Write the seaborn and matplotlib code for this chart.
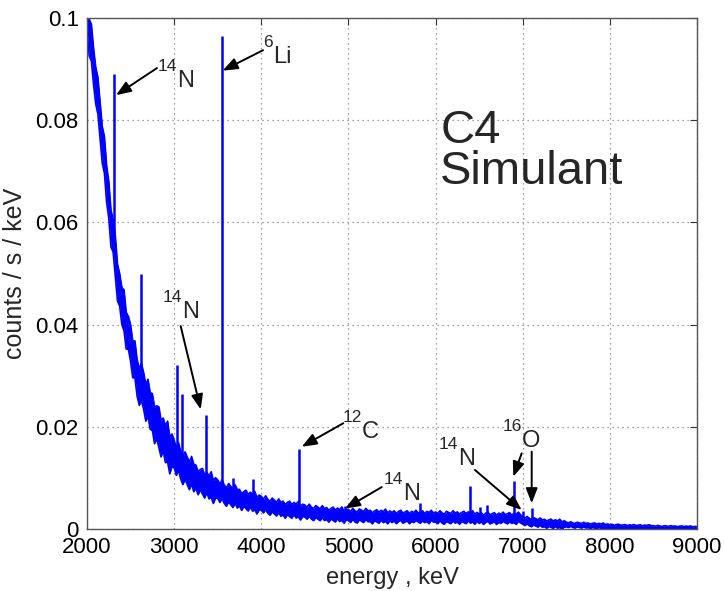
import numpy as np
import pandas as pd
import matplotlib
matplotlib.use("Agg")
import matplotlib.pyplot as plt
import seaborn as sns

# 连续谱噪声带的上沿/下沿 (counts/s/keV x 1e-3)，2000-9000 keV，每 25 keV 一个点
energy = np.arange(2000, 9001, 25)
hi_2000 = [105, 99.8, 98.8, 94.2, 90.4, 88.4, 83.6, 78.8, 76.8, 71.2,
           68, 62.4, 60.6, 57.4, 51.8, 50, 47.2, 46.8, 42.4, 41.6]
lo_2000 = [97.8, 92.6, 91.6, 87, 83.2, 81.2, 76.4, 71.6, 69.6, 64,
           60.8, 55.2, 54.2, 49.4, 44.6, 43.6, 40, 38.8, 35.2, 35.2]
hi_2500 = [40, 36.8, 36.8, 33.2, 31.4, 32.4, 30.6, 28.3, 29.3, 26.7,
           26.5, 23.9, 24.1, 23.9, 21.3, 21.7, 20.2, 21.1, 18, 18.6]
lo_2500 = [32.8, 29.6, 29.6, 26, 24.2, 25.2, 23.4, 21.1, 22.1, 19.5,
           19.3, 16.7, 17.7, 15.9, 14.1, 15.3, 13, 13.1, 10.8, 12.2]
hi_3000 = [17.4, 15.9, 16.9, 15.2, 14.1, 15.1, 14.1, 13.1, 14.2, 12.7,
           12.5, 11.2, 11.65, 11.85, 10.55, 11.1, 10.4, 11.2, 9.5, 10.05]
lo_3000 = [12, 10.5, 11.5, 9.8, 8.7, 9.7, 8.7, 7.7, 8.8, 7.3,
           8, 6.7, 7.65, 6.85, 6.05, 7.1, 5.9, 6.2, 5, 6.05]
hi_3500 = [9.6, 8.8, 9.6, 8.6, 8.05, 8.9, 8.35, 7.8, 8.65, 7.7,
           7.75, 6.88, 7.32, 7.58, 6.76, 7.2, 6.74, 7.36, 6.18, 6.62]
lo_3500 = [6, 5.2, 6, 5, 4.45, 5.3, 4.75, 4.2, 5.05, 4.1,
           4.51, 3.64, 4.44, 3.98, 3.52, 4.32, 3.5, 3.76, 2.94, 3.74]
hi_4000 = [6.4, 5.85, 6.5, 5.8, 5.4, 6.05, 5.65, 5.25, 5.9, 5.2,
           5.45, 4.8, 5.2, 5.45, 4.8, 5.2, 4.85, 5.4, 4.45, 4.85]
lo_4000 = [3.7, 3.15, 3.8, 3.1, 2.7, 3.35, 2.95, 2.55, 3.2, 2.5,
           2.75, 2.1, 2.8, 2.45, 2.1, 2.8, 2.15, 2.4, 1.75, 2.45]
hi_4500 = [4.7, 4.26, 4.86, 4.29, 3.98, 4.58, 4.27, 3.96, 4.56, 3.99,
           4.2, 3.68, 4.02, 4.28, 3.71, 4.1, 3.79, 4.31, 3.48, 3.87]
lo_4500 = [2.36, 1.92, 2.52, 1.95, 1.64, 2.24, 1.93, 1.62, 2.22, 1.65,
           1.86, 1.34, 1.94, 1.68, 1.37, 2.02, 1.45, 1.71, 1.14, 1.79]
hi_5000 = [3.8, 3.44, 4.04, 3.56, 3.32, 3.92, 3.68, 3.44, 4.04, 3.56,
           3.65, 3.17, 3.53, 3.77, 3.29, 3.65, 3.41, 3.89, 3.17, 3.53]
lo_5000 = [1.64, 1.28, 1.88, 1.4, 1.16, 1.76, 1.52, 1.28, 1.88, 1.4,
           1.49, 1.01, 1.61, 1.37, 1.13, 1.73, 1.25, 1.49, 1.01, 1.61]
hi_5500 = [3.23, 3.56, 3.01, 3.45, 3.67, 3.12, 3.34, 3.56, 3.01, 3.45,
           3.23, 3.67, 3.12, 3.34, 3.56, 3.01, 3.45, 3.23, 3.67, 3.12]
lo_5500 = [1.25, 1.58, 1.03, 1.47, 1.69, 1.14, 1.36, 1.58, 1.03, 1.47,
           1.25, 1.69, 1.36, 1.14, 1.58, 1.25, 1.47, 1.03, 1.69, 1.36]
hi_6000 = [3.35, 3.02, 3.57, 3.13, 2.91, 3.46, 3.24, 3.02, 3.57, 3.13,
           3.35, 2.91, 3.24, 3.46, 3.02, 3.35, 3.13, 3.57, 2.91, 3.24]
lo_6000 = [1.37, 1.04, 1.59, 1.15, 0.93, 1.48, 1.26, 1.04, 1.59, 1.15,
           1.37, 0.93, 1.48, 1.26, 1.04, 1.59, 1.15, 1.37, 0.93, 1.48]
hi_6500 = [2.9, 3.2, 2.7, 3.1, 3.3, 2.8, 3.0, 3.2, 2.7, 3.1,
           2.9, 3.3, 2.8, 3.0, 3.2, 2.7, 3.1, 2.9, 3.3, 2.8]
lo_6500 = [1.1, 1.4, 0.9, 1.3, 1.5, 1.0, 1.2, 1.4, 0.9, 1.3,
           1.1, 1.5, 1.2, 1.0, 1.4, 1.1, 1.3, 0.9, 1.5, 1.2]
hi_7000 = [2.4, 2.11, 2.46, 2.09, 1.88, 2.23, 2.02, 1.81, 2.16, 1.79,
           1.9, 1.58, 1.77, 1.93, 1.56, 1.8, 1.59, 1.91, 1.38, 1.62]
lo_7000 = [0.96, 0.67, 1.02, 0.65, 0.44, 0.79, 0.58, 0.37, 0.72, 0.35,
           0.46, 0.14, 0.49, 0.33, 0.12, 0.52, 0.15, 0.31, 0.0, 0.34]
hi_7500 = [1.35, 1.18, 1.42, 1.2, 1.08, 1.32, 1.2, 1.08, 1.32, 1.1,
           1.18, 0.97, 1.1, 1.18, 0.97, 1.1, 0.98, 1.17, 0.86, 1.0]
lo_7500 = [0.45, 0.28, 0.52, 0.3, 0.18, 0.42, 0.3, 0.18, 0.42, 0.2,
           0.28, 0.07, 0.3, 0.18, 0.07, 0.3, 0.08, 0.17, 0.0, 0.2]
hi_8000 = [0.82, 0.93, 0.72, 0.87, 0.94, 0.73, 0.8, 0.87, 0.66, 0.81,
           0.72, 0.88, 0.67, 0.75, 0.82, 0.62, 0.77, 0.69, 0.84, 0.64]
lo_8000 = [0.1, 0.21, 0.0, 0.15, 0.22, 0.01, 0.08, 0.15, 0.0, 0.09,
           0.0, 0.16, 0.03, 0.0, 0.1, 0.0, 0.05, 0.0, 0.12, 0.0]
hi_8500 = [0.65, 0.55, 0.7, 0.57, 0.51, 0.65, 0.58, 0.52, 0.66, 0.54,
           0.59, 0.46, 0.55, 0.6, 0.48, 0.56, 0.49, 0.61, 0.42, 0.5, 0.46]
lo_8500 = [0.11, 0.01, 0.16, 0.03, 0.0, 0.11, 0.04, 0.0, 0.12, 0.0,
           0.05, 0.0, 0.07, 0.0, 0.0, 0.08, 0.0, 0.01, 0.0, 0.02, 0.0]

# 特征峰: 能量 (keV), 峰底, 峰顶 (x 1e-3)
peak_energy = [2313, 2390, 2614, 3030, 3085, 3365, 3550, 3670, 3910, 4430,
               4960, 5820, 6390, 6510, 6590, 6900, 7000, 7110]
peak_low = [55, 44, 28, 13, 12, 8, 7, 5, 4, 3,
            2, 1.5, 1.5, 1.5, 1.5, 1.2, 1.0, 0.8]
peak_high = [89, 47.5, 50, 32, 26.5, 22.3, 96.5, 10, 9.8, 15.7,
             4.5, 5, 8.5, 4.4, 4.7, 9.3, 3.6, 4.1]

xticks = [2000, 3000, 4000, 5000, 6000, 7000, 8000, 9000]
yticks = [0, 0.02, 0.04, 0.06, 0.08, 0.1]
yticklabels = ['0', '0.02', '0.04', '0.06', '0.08', '0.1']

# 标注: 质量数, 元素, 文字位置 (keV, counts)
labels = [('14', 'N', 3033, 0.0865),
          ('6', 'Li', 4134, 0.0912),
          ('14', 'N', 3090, 0.0413),
          ('12', 'C', 5152, 0.0178),
          ('14', 'N', 5626, 0.0057),
          ('14', 'N', 6257, 0.0125),
          ('16', 'O', 6988, 0.0161)]
# 箭头: 起点 -> 终点
arrows = [((2803, 0.0902), (2333, 0.0849)),
          ((4020, 0.0937), (3557, 0.0897)),
          ((3075, 0.0397), (3305, 0.0234)),
          ((4941, 0.0207), (4464, 0.0161)),
          ((5382, 0.0082), (4961, 0.0040)),
          ((6452, 0.01155), (6988, 0.00372)),
          ((6988, 0.01481), (6892, 0.01023)),
          ((7103, 0.01513), (7103, 0.00503))]

sns.set_style("white")
plt.rcParams['font.family'] = ['Liberation Sans', 'DejaVu Sans']

hi = np.concatenate([hi_2000, hi_2500, hi_3000, hi_3500, hi_4000, hi_4500, hi_5000,
                     hi_5500, hi_6000, hi_6500, hi_7000, hi_7500, hi_8000, hi_8500]) * 1e-3
lo = np.concatenate([lo_2000, lo_2500, lo_3000, lo_3500, lo_4000, lo_4500, lo_5000,
                     lo_5500, lo_6000, lo_6500, lo_7000, lo_7500, lo_8000, lo_8500]) * 1e-3
df = pd.DataFrame({'energy': np.concatenate([energy, energy]),
                   'counts': np.concatenate([hi, lo]),
                   'edge': ['hi'] * len(energy) + ['lo'] * len(energy)})

fig = plt.figure(figsize=(7.24, 5.91), dpi=100)
ax = fig.add_axes([87 / 724, 1 - 529 / 591, 610 / 724, 511 / 591])

ax.fill_between(energy, lo, hi, color='#0000ff', linewidth=0)
sns.lineplot(data=df, x='energy', y='counts', units='edge', estimator=None,
             color='#0000ff', linewidth=1.2, ax=ax)
ax.vlines(peak_energy, np.array(peak_low) * 1e-3, np.array(peak_high) * 1e-3,
          color='#0000ff', linewidth=1.8)

ax.set_xlim(2000, 9000)
ax.set_ylim(0, 0.1)
ax.set_xticks(xticks)
ax.set_xticklabels([str(t) for t in xticks])
ax.set_yticks(yticks)
ax.set_yticklabels(yticklabels)
ax.grid(True, linestyle=(0, (1, 3)), color='#808080', linewidth=0.9)
ax.tick_params(direction='in', length=5, width=0.8, top=True, right=True,
               labelsize=16, pad=6, colors='#333333', labelcolor='black')
for sp in ax.spines.values():
    sp.set_color('#555555')
    sp.set_linewidth(1.0)

ax.set_xlabel('energy , keV', fontsize=17, labelpad=6)
ax.set_ylabel('counts / s / keV', fontsize=18, labelpad=6)

for mass, sym, tx, ty in labels:
    ax.text(tx, ty, sym, fontsize=17, ha='left', va='baseline')
    ax.annotate(mass, xy=(tx, ty), xytext=(0, 11.5), textcoords='offset points',
                fontsize=12.5, ha='right', va='baseline')
for tail, head in arrows:
    ax.annotate('', xy=head, xytext=tail,
                arrowprops=dict(arrowstyle='-|>,head_length=0.9,head_width=0.35',
                                color='black', lw=1.4, shrinkA=0, shrinkB=0))

ax.text(0.579, 0.755, 'C4', transform=ax.transAxes, fontsize=34, ha='left', va='baseline')
ax.text(0.579, 0.675, 'Simulant', transform=ax.transAxes, fontsize=34, ha='left', va='baseline')

fig.savefig('out.png', dpi=100)
